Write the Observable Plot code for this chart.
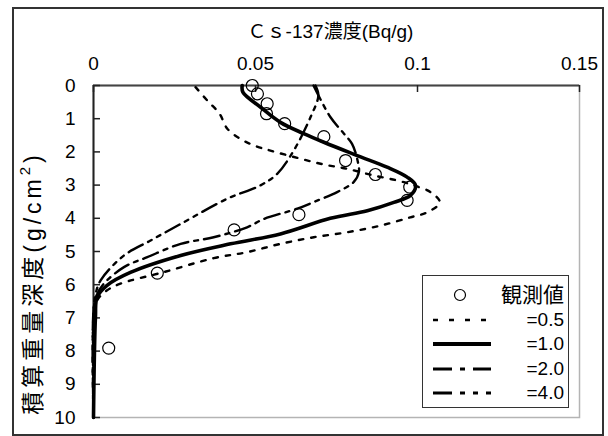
<!DOCTYPE html>
<html>
<head>
<meta charset="utf-8">
<script src="https://cdn.jsdelivr.net/npm/d3@7"></script>
<script src="https://cdn.jsdelivr.net/npm/@observablehq/plot@0.6"></script>
<style>
  html, body { margin: 0; padding: 0; background: #fff; }
  #wrap { position: relative; width: 608px; height: 436px; overflow: hidden; background: #fff; }
  #border { position: absolute; left: 12px; top: 7px; width: 588px; height: 425px; border: 2px solid #333; pointer-events: none; }
  #legend { position: absolute; left: 422px; top: 275px; width: 145px; height: 131px; border: 1.5px solid #333; background: #fff;
            font-family: "Liberation Sans", "Noto Sans CJK JP", sans-serif; color: #000; }
  .row { position: absolute; left: 0; right: 0; height: 24px; }
  .row svg { position: absolute; left: 10px; top: 5px; }
  .row span { position: absolute; right: 4px; top: 0; line-height: 24px; font-size: 19px; }
</style>
</head>
<body>
<div id="wrap"><div id="border"></div></div>
<script>
// ---- data ----
const xTicks = [0, 0.05, 0.1, 0.15];
const depthTicks = [0, 1, 2, 3, 4, 5, 6, 7, 8, 9, 10];

const obsConc  = [0.049, 0.0506, 0.0536, 0.0534, 0.059, 0.0711, 0.0778, 0.087, 0.0976, 0.0968, 0.0634, 0.0434, 0.0197, 0.0047];
const obsDepth = [0.0,   0.25,   0.55,   0.85,   1.15,  1.54,   2.26,   2.68,  3.06,   3.46,   3.89,   4.35,   5.65,   7.91];

const c05Conc  = [0.0315, 0.0351, 0.0389, 0.0413, 0.0459, 0.0505, 0.0546, 0.0629, 0.0711, 0.0783, 0.0865, 0.0937, 0.0989, 0.104, 0.1069, 0.103, 0.0978, 0.0886, 0.0783, 0.068, 0.0577, 0.0474, 0.0371, 0.0217, 0.0083, 0.0042, 0.0011, 0, 0];
const c05Depth = [0.05,   0.45,   0.85,   1.3,    1.64,   1.84,   1.96,   2.18,   2.38,   2.51,   2.71,   2.86,   3.01,   3.21,  3.52,   3.82,  3.97,   4.22,   4.42,   4.57,  4.77,   5.02,   5.2,    5.62,   5.97,   6.17,   6.48,   7.1, 10];

const c10Conc  = [0.0459, 0.0461, 0.0515, 0.0577, 0.0649, 0.0711, 0.0814, 0.0906, 0.0968, 0.0994, 0.0978, 0.0927, 0.0845, 0.0731, 0.0577, 0.0423, 0.0269, 0.0114, 0.0042, 0.0011, 0.0006, 0];
const c10Depth = [0.0,    0.2,    0.65,   1.11,   1.45,   1.71,   2.11,   2.46,   2.76,   3.01,   3.31,   3.52,   3.77,   4.0,    4.47,   4.77,   5.12,   5.63,   6.02,   6.38,   6.98,   10];

const c20Conc  = [0.0679, 0.0731, 0.0773, 0.0798, 0.0815, 0.0819, 0.0803, 0.0752, 0.068, 0.0629, 0.0526, 0.0474, 0.0371, 0.0269, 0.0166, 0.0094, 0.0032, 0.0009, 0, 0];
const c20Depth = [0.0,    0.95,   1.45,   1.76,   2.26,   2.61,   2.91,   3.21,   3.51,  3.71,   4.02,   4.27,   4.57,   4.77,   5.17,   5.47,   5.97,   6.33,   6.8, 10];

const c40Conc  = [0.0685, 0.0694, 0.067, 0.0618, 0.0567, 0.0515, 0.0413, 0.0269, 0.0176, 0.0094, 0.0022, 0.0006, 0, 0];
const c40Depth = [0.0,    0.3,    0.95,  1.96,   2.66,   3.01,   3.41,   4.17,   4.67,   5.12,   5.87,   6.3,    6.8, 10];

const xLabel = "Ｃｓ-137濃度(Bq/g)";
const yLabelMain = "積算重量深度(g/cm";
const yLabelSup = "2";
const yLabelEnd = ")";
const legendLabels = ["観測値", "=0.5", "=1.0", "=2.0", "=4.0"];

// ---- build tables ----
const toRows = (xs, ys) => xs.map((v, i) => ({conc: v, depth: ys[i]}));
const obs = toRows(obsConc, obsDepth);
const series = [
  {rows: toRows(c05Conc, c05Depth), dash: "4.5,8", width: 2.4},
  {rows: toRows(c10Conc, c10Depth), dash: null, width: 3.6},
  {rows: toRows(c20Conc, c20Depth), dash: "16,6,4,6", width: 2.4},
  {rows: toRows(c40Conc, c40Depth), dash: "16,6,4,6,4,6", width: 2.4}
];

const W = 608, H = 436, mL = 93, mR = 29, mT = 85, mB = 19;
const plotW = W - mL - mR, plotH = H - mT - mB;
const font = "'Liberation Sans', 'Noto Sans CJK JP', sans-serif";

const chart = Plot.plot({
  width: W, height: H,
  marginLeft: mL, marginRight: mR, marginTop: mT, marginBottom: mB,
  style: {fontFamily: font, background: "transparent", color: "#000"},
  x: {domain: [0, 0.15]},
  y: {domain: [0, 10], reverse: true},
  marks: [
    Plot.frame({stroke: "#b4b4b4", strokeWidth: 1.5}),
    Plot.ruleY([0], {stroke: "#444", strokeWidth: 2}),
    Plot.ruleX([0], {stroke: "#222", strokeWidth: 2}),
    Plot.ruleX(xTicks, {stroke: "#222", strokeWidth: 1.5, insetBottom: plotH - 7}),
    Plot.ruleY(depthTicks, {stroke: "#222", strokeWidth: 1.5, insetRight: plotW - 7}),
    ...series.map(s => Plot.line(s.rows, {x: "conc", y: "depth", stroke: "#000", strokeWidth: s.width,
                                          strokeDasharray: s.dash, curve: "catmull-rom"})),
    Plot.dot(obs, {x: "conc", y: "depth", r: 6, stroke: "#000", strokeWidth: 1.2, fill: "none"}),
    Plot.axisX({anchor: "top", ticks: xTicks, tickFormat: d => String(d), tickSize: 0, tickPadding: 16,
                fontSize: 19, label: null}),
    Plot.axisY({anchor: "left", ticks: depthTicks, tickFormat: d => String(d), tickSize: 0, tickPadding: 18,
                fontSize: 19, label: null}),
    Plot.text([xLabel], {frameAnchor: "top", dy: -54, dx: -6, fontSize: 19, text: d => d, lineAnchor: "middle"})
  ]
});

// y-axis title (rotated)
const yt = d3.select(chart).append("text")
  .attr("transform", "translate(33,283) rotate(-90)")
  .attr("text-anchor", "middle")
  .attr("dominant-baseline", "central")
  .attr("font-size", 23)
  .attr("letter-spacing", 4)
  .attr("fill", "#000");
yt.append("tspan").text(yLabelMain);
yt.append("tspan").attr("font-size", 15).attr("dy", -9).text(yLabelSup);
yt.append("tspan").attr("dy", 9).text(yLabelEnd);

const wrap = document.getElementById("wrap");
chart.style.position = "absolute";
chart.style.left = "0px";
chart.style.top = "0px";
wrap.insertBefore(chart, wrap.firstChild);

// ---- legend ----
const legend = document.createElement("div");
legend.id = "legend";
const rowCenters = [19, 44, 68, 93, 117];
const samples = [
  `<circle cx="27" cy="7" r="5.5" fill="none" stroke="#000" stroke-width="1.2"/>`,
  `<line x1="0" y1="7" x2="58" y2="7" stroke="#000" stroke-width="2.5" stroke-dasharray="5,11"/>`,
  `<line x1="0" y1="7" x2="58" y2="7" stroke="#000" stroke-width="4"/>`,
  `<line x1="0" y1="7" x2="58" y2="7" stroke="#000" stroke-width="3" stroke-dasharray="19,8,5,8"/>`,
  `<line x1="0" y1="7" x2="58" y2="7" stroke="#000" stroke-width="3" stroke-dasharray="19,8,5,8,5,8"/>`
];
legendLabels.forEach((lab, i) => {
  const row = document.createElement("div");
  row.className = "row";
  row.style.top = (rowCenters[i] - 12) + "px";
  row.innerHTML = `<svg width="58" height="14">${samples[i]}</svg><span style="${i === 0 ? 'font-size:21px' : ''}">${lab}</span>`;
  legend.appendChild(row);
});
wrap.appendChild(legend);
</script>
</body>
</html>
